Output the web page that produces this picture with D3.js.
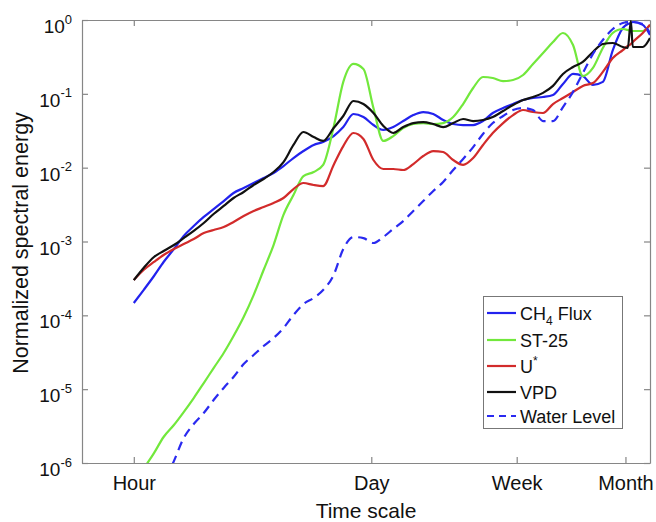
<!DOCTYPE html>
<html><head><meta charset="utf-8">
<script src="https://d3js.org/d3.v7.min.js"></script>
<style>body{margin:0;background:#fff}</style>
</head><body><svg id="c" width="656" height="522"></svg>
<script>
// Time scale in hours
const hours = [1, 1.14, 1.31, 1.49, 1.71, 1.95, 2.23, 2.55, 2.91, 3.33,
  3.8, 4.35, 4.97, 5.68, 6.49, 7.41, 8.47, 9.68, 11.1, 12.6,
  14.5, 16.5, 18.9, 21.6, 24.7, 28.2, 32.2, 36.8, 42.1, 48.1,
  55, 62.8, 71.8, 82, 93.8, 107, 122, 140, 160, 183,
  209, 239, 273, 312, 357, 407, 466, 532, 608, 695,
  743, 774, 794, 908, 1000];

const ch4Flux = [0.000147, 0.00022, 0.000341, 0.000528, 0.000791, 0.00119, 0.00162, 0.00215, 0.00275, 0.00353,
  0.00454, 0.0053, 0.0062, 0.00724, 0.00847, 0.0105, 0.0135, 0.0168, 0.0203, 0.0223,
  0.0268, 0.0355, 0.0533, 0.0485, 0.0378, 0.0324, 0.0355, 0.0428, 0.0516, 0.0567,
  0.0533, 0.0442, 0.039, 0.0378, 0.0378, 0.0428, 0.055, 0.0643, 0.0728, 0.0825,
  0.0878, 0.0906, 0.0964, 0.136, 0.186, 0.174, 0.132, 0.145, 0.392, 0.78,
  0.88, 0.91, 0.94, 0.86, 0.626];

const st25 = [5.03e-7, 8.3e-7, 1.36e-6, 2.25e-6, 3.27e-6, 4.9e-6, 7.59e-6, 1.21e-5, 1.93e-5, 3.09e-5,
  5.25e-5, 9.5e-5, 0.000188, 0.000411, 0.000896, 0.00229, 0.00426, 0.0077, 0.00873, 0.0109,
  0.0355, 0.145, 0.254, 0.217, 0.0643, 0.023, 0.0268, 0.0344, 0.039, 0.0402,
  0.039, 0.0402, 0.0485, 0.0728, 0.12, 0.169, 0.164, 0.149, 0.154, 0.18,
  0.254, 0.357, 0.503, 0.667, 0.458, 0.174, 0.224, 0.418, 0.667, 0.755,
  0.732, 0.71, 0.71, 0.71, 0.86];

const uStar = [0.0003, 0.000411, 0.000528, 0.000656, 0.000791, 0.000925, 0.00108, 0.0013, 0.00143, 0.00157,
  0.00184, 0.00221, 0.00259, 0.00293, 0.00332, 0.00388, 0.00514, 0.0062, 0.00582, 0.00564,
  0.0109, 0.0196, 0.0295, 0.0245, 0.0127, 0.0096, 0.0096, 0.0093, 0.0112, 0.0144,
  0.0168, 0.0163, 0.0127, 0.0109, 0.0135, 0.0203, 0.0295, 0.0402, 0.0516, 0.0604,
  0.0567, 0.055, 0.0728, 0.0878, 0.106, 0.128, 0.14, 0.198, 0.306, 0.392,
  0.445, 0.473, 0.503, 0.667, 0.86];

const vpd = [0.0003, 0.000438, 0.000617, 0.000744, 0.000896, 0.00111, 0.00139, 0.00178, 0.00236, 0.00303,
  0.00388, 0.00468, 0.00582, 0.00702, 0.00873, 0.0119, 0.0203, 0.0304, 0.026, 0.023,
  0.0344, 0.0501, 0.08, 0.0728, 0.055, 0.0367, 0.0295, 0.0355, 0.0402, 0.0415,
  0.039, 0.0355, 0.0402, 0.0456, 0.0428, 0.0442, 0.0485, 0.0585, 0.0706, 0.0825,
  0.0906, 0.103, 0.128, 0.186, 0.231, 0.27, 0.369, 0.473, 0.488, 0.431,
  0.418, 0.969, 0.431, 0.431, 0.57];

const waterLevel = [null, null, 2.7e-7, 5.35e-7, 1.06e-6, 2.18e-6, 3.37e-6, 4.75e-6, 7.13e-6, 1.04e-5,
  1.46e-5, 2.19e-5, 2.9e-5, 3.84e-5, 4.93e-5, 6.73e-5, 1.01e-4, 1.42e-4, 0.000172, 0.00022,
  0.000352, 0.000791, 0.00115, 0.00111, 0.000954, 0.00115, 0.00148, 0.00189, 0.00259, 0.00353,
  0.00483, 0.0064, 0.0093, 0.0131, 0.019, 0.0286, 0.0402, 0.0501, 0.0604, 0.0643,
  0.0604, 0.0428, 0.0428, 0.0663, 0.106, 0.191, 0.346, 0.536, 0.755, 0.91,
  0.94, 0.94, 0.94, 0.88, 0.667];

const xTickValues = [1, 24, 168, 720];
const xTickLabels = ["Hour", "Day", "Week", "Month"];
const yTickExponents = [-6, -5, -4, -3, -2, -1, 0];

const seriesNames = ["CH4 Flux", "ST-25", "U*", "VPD", "Water Level"];
const seriesData = [ch4Flux, st25, uStar, vpd, waterLevel];
const seriesColors = ["#2222ee", "#72e83c", "#d22b2b", "#111111", "#2a2af0"];
const seriesDash = [null, null, null, null, "9,6"];

const FONT = "'Liberation Sans', Arial, Helvetica, sans-serif";
const L = 82, R = 650, T = 20, B = 463;

const svg = d3.select("#c").style("font-family", FONT);
svg.append("rect").attr("width", 656).attr("height", 522).attr("fill", "#fff");

const x = d3.scaleLog().domain([0.5, 1000]).range([L, R]);
const y = d3.scaleLog().domain([1e-6, 1]).range([B, T]);

svg.append("defs").append("clipPath").attr("id", "clip")
  .append("rect").attr("x", L).attr("y", T).attr("width", R - L).attr("height", B - T);

const AX = "#868686";
function styleAxis(g) {
  g.select(".domain").attr("stroke", AX).attr("stroke-width", 1.2);
  g.selectAll(".tick line").attr("stroke", AX).attr("stroke-width", 1.2);
}

// bottom axis
const gB = svg.append("g").attr("transform", `translate(0,${B})`)
  .call(d3.axisBottom(x).tickValues(xTickValues).tickFormat((d, i) => xTickLabels[i])
    .tickSizeInner(-6).tickSizeOuter(0).tickPadding(13));
styleAxis(gB);
gB.selectAll(".tick text").attr("font-size", 20).attr("fill", "#111").attr("font-family", FONT);

// top axis
const gT = svg.append("g").attr("transform", `translate(0,${T})`)
  .call(d3.axisTop(x).tickValues(xTickValues).tickFormat(() => "").tickSizeInner(-6).tickSizeOuter(0));
styleAxis(gT);

// left axis
const yTicks = yTickExponents.map(e => Math.pow(10, e));
const gL = svg.append("g").attr("transform", `translate(${L},0)`)
  .call(d3.axisLeft(y).tickValues(yTicks).tickFormat(() => "").tickSizeInner(-6).tickSizeOuter(0));
styleAxis(gL);
gL.selectAll(".tick text").remove();
gL.selectAll(".tick").each(function(d, i) {
  const t = d3.select(this).append("text")
    .attr("x", -10).attr("y", 12.5).attr("text-anchor", "end")
    .attr("fill", "#111").attr("font-family", FONT).attr("font-size", 19);
  t.append("tspan").text("10");
  t.append("tspan").attr("font-size", 13).attr("dy", -9.5).text(String(yTickExponents[i]));
});

// right axis
const gR = svg.append("g").attr("transform", `translate(${R},0)`)
  .call(d3.axisRight(y).tickValues(yTicks).tickFormat(() => "").tickSizeInner(-6).tickSizeOuter(0));
styleAxis(gR);

// axis titles
svg.append("text").attr("x", (L + R) / 2).attr("y", 518).attr("text-anchor", "middle")
  .attr("font-size", 21).attr("fill", "#111").text("Time scale");
svg.append("text").attr("transform", "translate(28,243) rotate(-90)").attr("text-anchor", "middle")
  .attr("font-size", 21.5).attr("fill", "#111").text("Normalized spectral energy");

// lines
const line = d3.line()
  .defined(d => d[1] != null)
  .x(d => x(d[0])).y(d => y(d[1]))
  .curve(d3.curveMonotoneX);

const plot = svg.append("g").attr("clip-path", "url(#clip)");
seriesData.forEach((vals, s) => {
  const pts = hours.map((h, i) => [h, vals[i]]);
  plot.append("path").datum(pts)
    .attr("fill", "none")
    .attr("stroke", seriesColors[s])
    .attr("stroke-width", 2.2)
    .attr("stroke-linejoin", "round")
    .attr("stroke-dasharray", seriesDash[s])
    .attr("d", line);
});

// legend
const lg = svg.append("g");
lg.append("rect").attr("x", 483.5).attr("y", 296.5).attr("width", 139).attr("height", 132)
  .attr("fill", "#fff").attr("stroke", "#777").attr("stroke-width", 1);
const legY = [313, 340, 366, 392, 416];
seriesNames.forEach((name, s) => {
  const yy = legY[s];
  lg.append("line").attr("x1", 487).attr("x2", 516).attr("y1", yy).attr("y2", yy)
    .attr("stroke", seriesColors[s]).attr("stroke-width", 2.2)
    .attr("stroke-dasharray", s === 4 ? "7,5" : null);
  const t = lg.append("text").attr("x", 520).attr("y", yy + 6.5)
    .attr("font-size", 18).attr("fill", "#111");
  if (name === "CH4 Flux") {
    t.append("tspan").text("CH");
    t.append("tspan").attr("font-size", 12).attr("dy", 5).text("4");
    t.append("tspan").attr("dy", -5).text(" Flux");
  } else if (name === "U*") {
    t.append("tspan").text("U");
    t.append("tspan").attr("font-size", 12).attr("dy", -8).text("*");
  } else {
    t.text(name);
  }
});
</script></body></html>
